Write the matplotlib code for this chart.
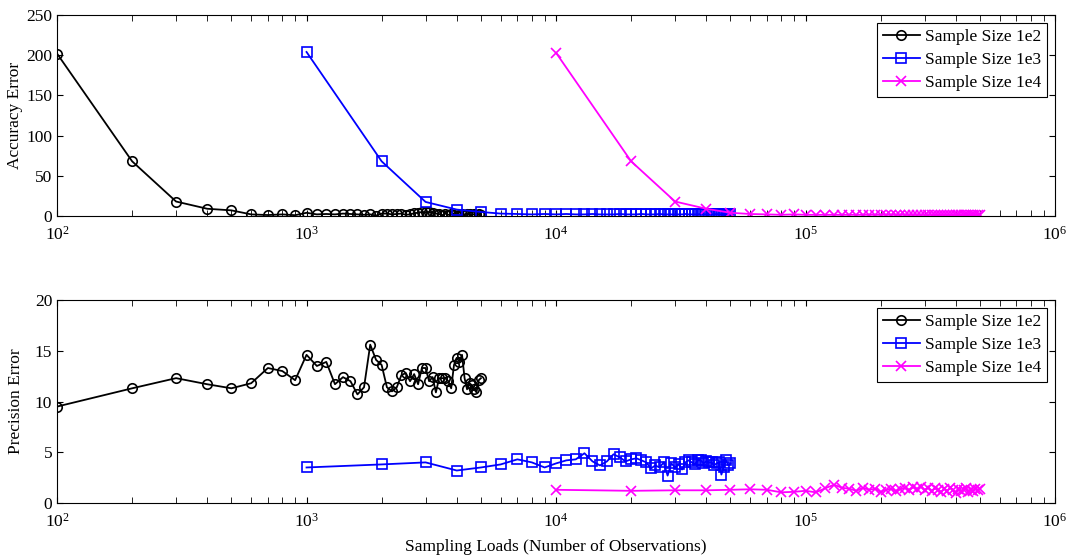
import matplotlib
matplotlib.use('Agg')
import matplotlib.pyplot as plt
from matplotlib.ticker import LogLocator, NullFormatter

plt.rcParams['font.family'] = ['Liberation Serif', 'DejaVu Serif']
plt.rcParams['mathtext.fontset'] = 'custom'
plt.rcParams['mathtext.rm'] = 'Liberation Serif'
plt.rcParams['mathtext.it'] = 'Liberation Serif'

# sampling loads for each sample size
loads_1e2 = [100 * k for k in range(1, 51)]
loads_1e3 = [1000 * k for k in range(1, 51)]
loads_1e4 = [10000 * k for k in range(1, 51)]

labels = ['Sample Size 1e2', 'Sample Size 1e3', 'Sample Size 1e4']

acc_1e2 = [202, 68, 18, 9, 7, 2, 1.2, 2, 1, 4,
           2, 2.5, 2, 3, 2.5, 2, 1.5, 2, 0.5, 3,
           3, 2, 2.5, 3, 1.5, 2, 3.5, 4, 5, 4.5,
           5, 4, 3, 2.5, 1, 3, 1.5, 2, 1, 0.5,
           1, 2, 1.5, 3, 2, 1, 2.5, 1.5, 2, 1]
acc_1e3 = [204, 68, 17.5, 8, 5, 3, 2.5, 2, 2.5, 2,
           2.5, 2, 2, 2.5, 2, 2, 2, 2.5, 2, 2,
           2, 2.5, 2, 2, 2, 2.5, 2, 2, 2, 2,
           2, 2, 2.5, 2, 2, 2, 2, 2.5, 2, 2,
           2, 2, 2, 2.5, 2, 2, 2, 2, 2.5, 2]
acc_1e4 = [203, 68, 18, 9, 4, 2.5, 2, 1.5, 2, 1.5,
           1.5, 1.5, 1.5, 1.5, 1.5, 1.5, 1.5, 1.5, 1.5, 1.5,
           1.5, 1.5, 1.5, 1.5, 1.5, 1.5, 1.5, 1.5, 1.5, 1.5,
           1.5, 1.5, 1.5, 1.5, 1.5, 1.5, 1.5, 1.5, 1.5, 1.5,
           1.5, 1.5, 1.5, 1.5, 1.5, 1.5, 1.5, 1.5, 1.5, 1.5]

prec_1e2 = [9.5, 11.3, 12.3, 11.7, 11.3, 11.8, 13.3, 13.0, 12.1, 14.6,
            13.5, 13.9, 11.7, 12.4, 12.0, 10.7, 11.4, 15.6, 14.1, 13.6,
            11.4, 11.0, 11.4, 12.6, 12.8, 12.0, 12.7, 11.7, 13.3, 13.3,
            12.0, 12.4, 10.9, 12.3, 12.3, 12.3, 12.0, 11.3, 13.6, 14.3,
            13.9, 14.6, 12.3, 11.2, 11.8, 11.6, 11.2, 10.9, 12.1, 12.3]
prec_1e3 = [3.5, 3.8, 4.0, 3.2, 3.5, 3.8, 4.3, 4.0, 3.5, 3.9,
            4.2, 4.3, 4.9, 4.1, 3.7, 4.1, 4.8, 4.5, 4.1, 4.3,
            4.4, 4.2, 4.0, 3.4, 3.7, 3.5, 4.0, 2.7, 3.9, 3.5,
            3.8, 3.3, 4.0, 4.2, 4.0, 3.8, 4.2, 4.2, 3.9, 4.1,
            4.0, 4.0, 3.7, 3.9, 4.0, 2.8, 3.5, 4.2, 3.7, 3.9]
prec_1e4 = [1.3, 1.2, 1.25, 1.25, 1.3, 1.35, 1.3, 1.05, 1.1, 1.2,
            1.05, 1.45, 1.8, 1.5, 1.4, 1.2, 1.5, 1.3, 1.4, 1.1,
            1.3, 1.4, 1.2, 1.35, 1.5, 1.3, 1.55, 1.4, 1.6, 1.3,
            1.5, 1.2, 1.45, 1.3, 1.1, 1.4, 1.2, 1.5, 1.3, 1.0,
            1.4, 1.2, 1.3, 1.5, 1.1, 1.3, 1.2, 1.4, 1.3, 1.4]

colors = ['black', '#0000ff', '#ff00ff']
markers = ['o', 's', 'x']

fig = plt.figure(figsize=(10.7, 5.59), dpi=100)
ax1 = fig.add_axes([0.0533, 0.6136, 0.9327, 0.3596])
ax2 = fig.add_axes([0.0533, 0.1002, 0.9327, 0.3631])

loads = [loads_1e2, loads_1e3, loads_1e4]
for ax, series in ((ax1, [acc_1e2, acc_1e3, acc_1e4]),
                   (ax2, [prec_1e2, prec_1e3, prec_1e4])):
    for x, y, c, m, lab in zip(loads, series, colors, markers, labels):
        ax.plot(x, y, color=c, marker=m, markersize=6.8, markerfacecolor='none',
                markeredgewidth=1.2, linewidth=1.3, label=lab)
    ax.set_xscale('log')
    ax.set_xlim(1e2, 1e6)
    ax.xaxis.set_major_locator(LogLocator(base=10))
    ax.xaxis.set_minor_locator(LogLocator(base=10, subs=range(2, 10)))
    ax.xaxis.set_minor_formatter(NullFormatter())
    ax.tick_params(which='both', direction='in', top=True, right=True, labelsize=12.5)
    ax.tick_params(which='both', length=4)
    ax.tick_params(axis='x', pad=7)
    leg = ax.legend(loc='upper right', fontsize=12.5, fancybox=False, framealpha=1,
                    borderaxespad=0.45, handlelength=2.1, handletextpad=0.3,
                    borderpad=0.35, labelspacing=0.4)
    leg.get_frame().set_edgecolor('black')
    leg.get_frame().set_linewidth(0.8)

ax1.set_ylim(0, 250)
ax1.set_yticks(range(0, 251, 50))
ax1.set_ylabel('Accuracy Error', fontsize=12.5, labelpad=2)

ax2.set_ylim(0, 20)
ax2.set_yticks(range(0, 21, 5))
ax2.set_ylabel('Precision Error', fontsize=12.5, labelpad=8)
ax2.set_xlabel('Sampling Loads (Number of Observations)', fontsize=12.5, labelpad=6)

fig.savefig('out.png', dpi=100)
